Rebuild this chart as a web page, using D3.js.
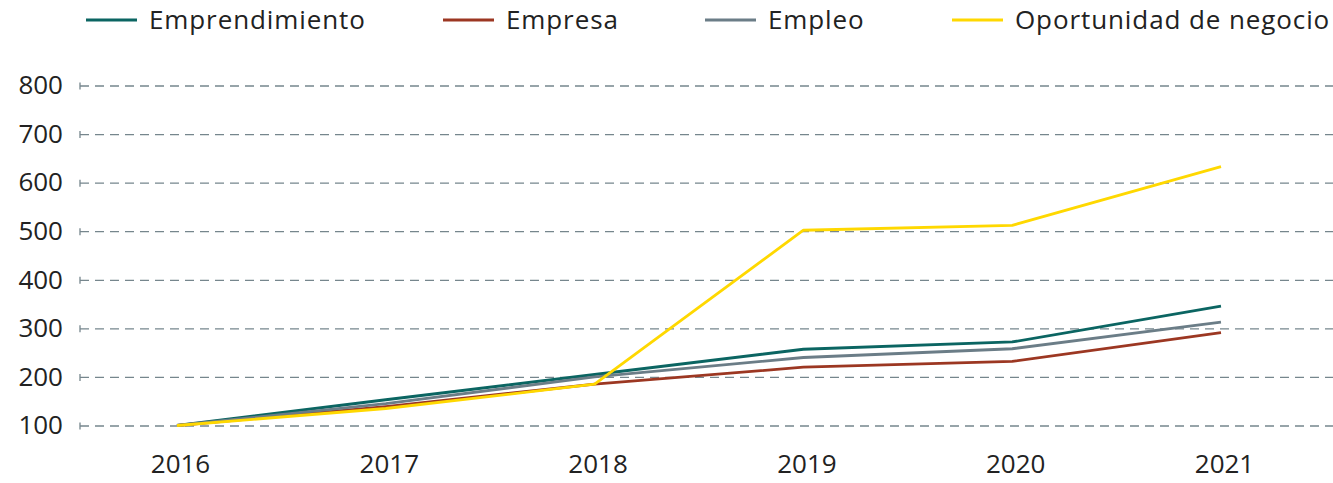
<!DOCTYPE html>
<html>
<head>
<meta charset="utf-8">
<script src="https://cdn.jsdelivr.net/npm/d3@7"></script>
<style>
  body { margin: 0; background: #fff; }
  svg { display: block; }
  .axis text { font-family: "Open Sans", sans-serif; fill: #222; }
  .legend text { font-family: "Open Sans", sans-serif; fill: #222; }
</style>
</head>
<body>
<svg id="chart"></svg>
<script>
const years = ['2016', '2017', '2018', '2019', '2020', '2021'];
const emprendimiento = [100, 153, 205, 257, 272, 346];
const empresa = [100, 139, 185, 220, 232, 291];
const empleo = [100, 145, 200, 240, 258, 313];
const oportunidad = [100, 135, 185, 502, 512, 633];
const yTicks = [100, 200, 300, 400, 500, 600, 700, 800];

const seriesNames = ['Emprendimiento', 'Empresa', 'Empleo', 'Oportunidad de negocio'];
const seriesValues = [emprendimiento, empresa, empleo, oportunidad];
const seriesColors = ['#0b6562', '#9c3722', '#6b7d87', '#ffd800'];

const W = 1333, H = 483;
const left = 80;

const svg = d3.select('#chart').attr('width', W).attr('height', H);

const x = d3.scalePoint().domain(years).range([177, 1221]);
const y = d3.scaleLinear().domain([100, 800]).range([425.5, 85.5]);

// eje y con lineas punteadas
const yAxis = svg.append('g')
  .attr('class', 'axis')
  .attr('transform', `translate(${left},0)`)
  .call(d3.axisLeft(y).tickValues(yTicks).tickSizeInner(-(W - left)).tickSizeOuter(0).tickPadding(17));
yAxis.select('.domain').remove();
yAxis.selectAll('.tick line')
  .attr('stroke', '#76868d')
  .attr('stroke-width', 1.3)
  .attr('stroke-dasharray', '9,6');
yAxis.selectAll('.tick').append('line')
  .attr('x1', 0).attr('x2', 0)
  .attr('y1', -3.5).attr('y2', 3.5)
  .attr('stroke', '#76868d')
  .attr('stroke-width', 1.3);
yAxis.selectAll('.tick text')
  .style('font-size', '26px');

// eje x
const xAxis = svg.append('g')
  .attr('class', 'axis')
  .attr('transform', `translate(0,448)`)
  .call(d3.axisBottom(x).tickSize(0).tickPadding(7));
xAxis.select('.domain').remove();
xAxis.selectAll('.tick text')
  .attr('dx', 3)
  .style('font-size', '26px');

// lineas
const line = d3.line()
  .x((d, i) => x(years[i]))
  .y(d => y(d));

svg.append('g')
  .selectAll('path')
  .data(seriesValues)
  .enter()
  .append('path')
  .attr('fill', 'none')
  .attr('stroke', (d, i) => seriesColors[i])
  .attr('stroke-width', 2.8)
  .attr('stroke-linejoin', 'round')
  .attr('d', line);

// leyenda
const legendX = [86, 443, 705, 952];
const legend = svg.append('g').attr('class', 'legend');
const items = legend.selectAll('g')
  .data(seriesNames)
  .enter()
  .append('g')
  .attr('transform', (d, i) => `translate(${legendX[i]},20)`);
items.append('line')
  .attr('x1', 0).attr('x2', 51)
  .attr('y1', 0).attr('y2', 0)
  .attr('stroke', (d, i) => seriesColors[i])
  .attr('stroke-width', 3);
items.append('text')
  .attr('x', 63)
  .attr('y', 9)
  .style('font-size', '26px')
  .style('letter-spacing', '0.9px')
  .text(d => d);
</script>
</body>
</html>
